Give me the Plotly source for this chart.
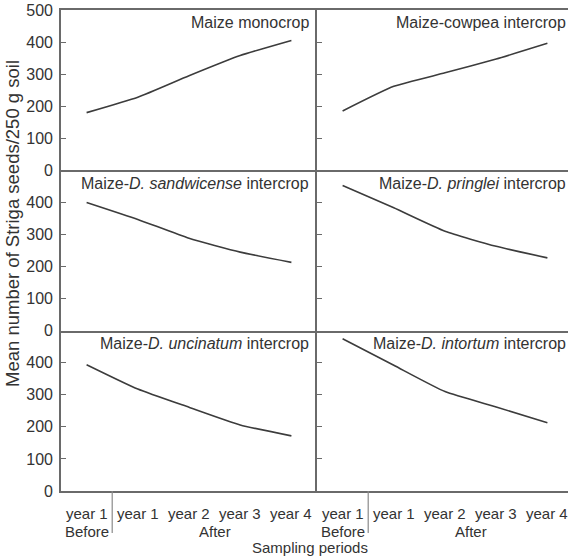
import plotly.graph_objects as go

# Striga seed bank under six cropping systems
periods = ["year 1", "year 1", "year 2", "year 3", "year 4"]
phase_labels = ["Before", "After"]

monocrop = [180, 228, 295, 358, 405]
cowpea = [185, 262, 304, 347, 396]
sandwicense = [400, 347, 288, 245, 213]
pringlei = [453, 383, 310, 263, 227]
uncinatum = [394, 318, 261, 206, 172]
intortum = [475, 392, 310, 262, 213]

panel_titles = [
    "Maize monocrop",
    "Maize-cowpea intercrop",
    "Maize-<i>D. sandwicense</i> intercrop",
    "Maize-<i>D. pringlei</i> intercrop",
    "Maize-<i>D. uncinatum</i> intercrop",
    "Maize-<i>D. intortum</i> intercrop",
]
series = [monocrop, cowpea, sandwicense, pringlei, uncinatum, intortum]

W, H = 568, 558
ML, MR, MT, MB = 61, 0, 10, 67
plot_w = W - ML - MR
plot_h = H - MT - MB
left_w = 256                      # width of the left column in px
right_w = plot_w - left_w
split = left_w / plot_w
cat_px = left_w / len(periods)    # px per category
right_span = right_w / cat_px

FONT = "Liberation Sans, Arial, sans-serif"
TXT = "#333333"
AX = "#6a6a6a"
LINE = "#3c3c3c"


def px_below_axis(px):
    """Paper y for a point `px` pixels below the bottom axis line."""
    return -px / plot_h


fig = go.Figure()
x_idx = list(range(len(periods)))
row_domains = [[2 / 3, 1.0], [1 / 3, 2 / 3], [0.0, 1 / 3]]
all_ticks = [0, 100, 200, 300, 400, 500]

for i, vals in enumerate(series):
    row, col = divmod(i, 2)
    n = i + 1
    sx = "" if n == 1 else str(n)
    fig.add_trace(go.Scatter(
        x=x_idx, y=vals, mode="lines",
        line=dict(color=LINE, width=1.6, shape="spline", smoothing=0.5),
        xaxis="x" + sx, yaxis="y" + sx, showlegend=False, hoverinfo="skip",
    ))
    xdom = [0.0, split] if col == 0 else [split, 1.0]
    xr = [-0.5, 4.5] if col == 0 else [-0.5, -0.5 + right_span]
    fig.layout["xaxis" + sx] = dict(
        domain=xdom, range=xr, anchor="y" + sx,
        showline=True, linecolor=AX, linewidth=1.6,
        mirror=(row == 0), showgrid=False, zeroline=False,
        showticklabels=False, ticks="",
    )
    shown = all_ticks if row == 0 else all_ticks[:-1]
    fig.layout["yaxis" + sx] = dict(
        domain=row_domains[row], range=[0, 500], anchor="x" + sx,
        showline=True, linecolor=AX, linewidth=1.6,
        showgrid=False, zeroline=False,
        tickvals=all_ticks,
        ticktext=[str(v) if v in shown else "" for v in all_ticks],
        showticklabels=(col == 0), ticks="inside", ticklen=5,
        tickcolor=AX, tickwidth=1.3,
        tickfont=dict(family=FONT, size=16, color=TXT),
        ticklabelstandoff=3,
    )
    # panel title in the top-right corner
    xd = ("x" + sx) + " domain"
    yd = ("y" + sx) + " domain"
    fig.add_annotation(
        text=panel_titles[i], xref=xd, yref=yd,
        x=(left_w - 6) / left_w if col == 0 else 1.0,
        y=0.985, xanchor="right", yanchor="top", showarrow=False,
        font=dict(family=FONT, size=16, color=TXT),
    )

# period labels and before/after grouping under both bottom panels
for sx in ["5", "6"]:
    for k, lab in enumerate(periods):
        fig.add_annotation(text=lab, xref="x" + sx, yref="paper",
                           x=k, y=px_below_axis(22), yanchor="middle",
                           showarrow=False,
                           font=dict(family=FONT, size=15, color=TXT))
    fig.add_shape(type="line", xref="x" + sx, yref="paper",
                  x0=0.5, x1=0.5, y0=0, y1=px_below_axis(42),
                  line=dict(color="#8a8a8a", width=1.2))
    for lab, xc in zip(phase_labels, [0, 2.5]):
        fig.add_annotation(text=lab, xref="x" + sx, yref="paper",
                           x=xc, y=px_below_axis(40), yanchor="middle",
                           showarrow=False, borderpad=0,
                           font=dict(family=FONT, size=15, color=TXT))

fig.add_annotation(text="Sampling periods", xref="paper", yref="paper",
                   x=(310 - ML) / plot_w, y=px_below_axis(56),
                   yanchor="middle", showarrow=False, borderpad=0,
                   font=dict(family=FONT, size=15, color=TXT))
fig.add_annotation(text="Mean number of Striga seeds/250 g soil",
                   xref="paper", yref="paper", textangle=-90,
                   x=(12 - ML) / plot_w, y=((H - MB) - 224) / plot_h,
                   xanchor="center", yanchor="middle", showarrow=False,
                   font=dict(family=FONT, size=18.5, color=TXT))

fig.update_layout(
    width=W, height=H,
    margin=dict(l=ML, r=MR, t=MT, b=MB),
    paper_bgcolor="white", plot_bgcolor="white",
)

fig.write_html("out.html")
